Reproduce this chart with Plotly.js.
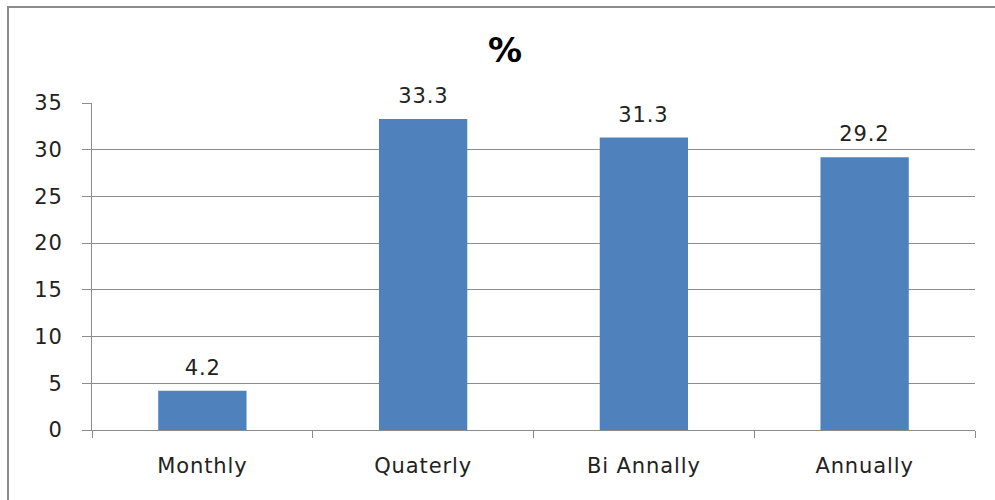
<!DOCTYPE html>
<html><head><meta charset="utf-8">
<script src="https://cdn.plot.ly/plotly-3.0.1.min.js"></script>
<style>
html,body{margin:0;padding:0;background:#fff;}
#wrap{position:relative;width:995px;height:500px;overflow:hidden;}
#chart{width:995px;height:500px;}
#chart .xtick text, #chart .ytick text, #chart .annotation-text{letter-spacing:0.9px;}
#frame{position:absolute;left:7px;top:6px;width:1000px;height:510px;border:2px solid #8c8c8c;box-sizing:border-box;pointer-events:none;}
</style></head>
<body>
<div id="wrap"><div id="chart"></div><div id="frame"></div></div>
<script>
const categories = ["Monthly", "Quaterly", "Bi Annally", "Annually"];
const values = [4.2, 33.3, 31.3, 29.2];
const yTicks = [0, 5, 10, 15, 20, 25, 30, 35];

const FONT = 'DejaVu Sans, sans-serif';
const trace = {
  type: 'bar',
  x: categories,
  y: values,
  marker: {color: '#4f81bd'},
  hoverinfo: 'none'
};
const labels = categories.map((c, i) => ({
  x: c, y: values[i], xref: 'x', yref: 'y',
  text: values[i].toFixed(1), showarrow: false,
  yanchor: 'bottom', yshift: 9,
  font: {family: FONT, size: 21, color: '#222'}
}));
const layout = {
  width: 995, height: 500,
  margin: {l: 92, r: 20, t: 103, b: 70},
  paper_bgcolor: '#fff', plot_bgcolor: '#fff',
  bargap: 0.6,
  showlegend: false,
  annotations: labels,
  title: {text: '<b>%</b>', x: 0.5075, xanchor: 'center', y: 0.9, yanchor: 'middle',
          font: {family: FONT, size: 34, color: '#000'}},
  font: {family: FONT, size: 21, color: '#222'},
  xaxis: {
    type: 'category', tickson: 'boundaries', ticks: 'outside', ticklen: 7,
    tickcolor: '#8c8c8c', showline: true, linecolor: '#8c8c8c', linewidth: 1,
    showgrid: false, tickfont: {family: FONT, size: 21}, ticklabelstandoff: 17
  },
  yaxis: {
    range: [0, 35], tickvals: yTicks, ticktext: yTicks.map(String),
    ticks: 'outside', ticklen: 9, tickcolor: '#8c8c8c',
    showline: true, linecolor: '#8c8c8c', linewidth: 1,
    showgrid: true, gridcolor: '#8c8c8c', gridwidth: 1,
    zeroline: false, tickfont: {family: FONT, size: 21}, ticklabelstandoff: 15
  }
};
Plotly.newPlot('chart', [trace], layout, {displayModeBar: false, staticPlot: true});
</script>
</body></html>
